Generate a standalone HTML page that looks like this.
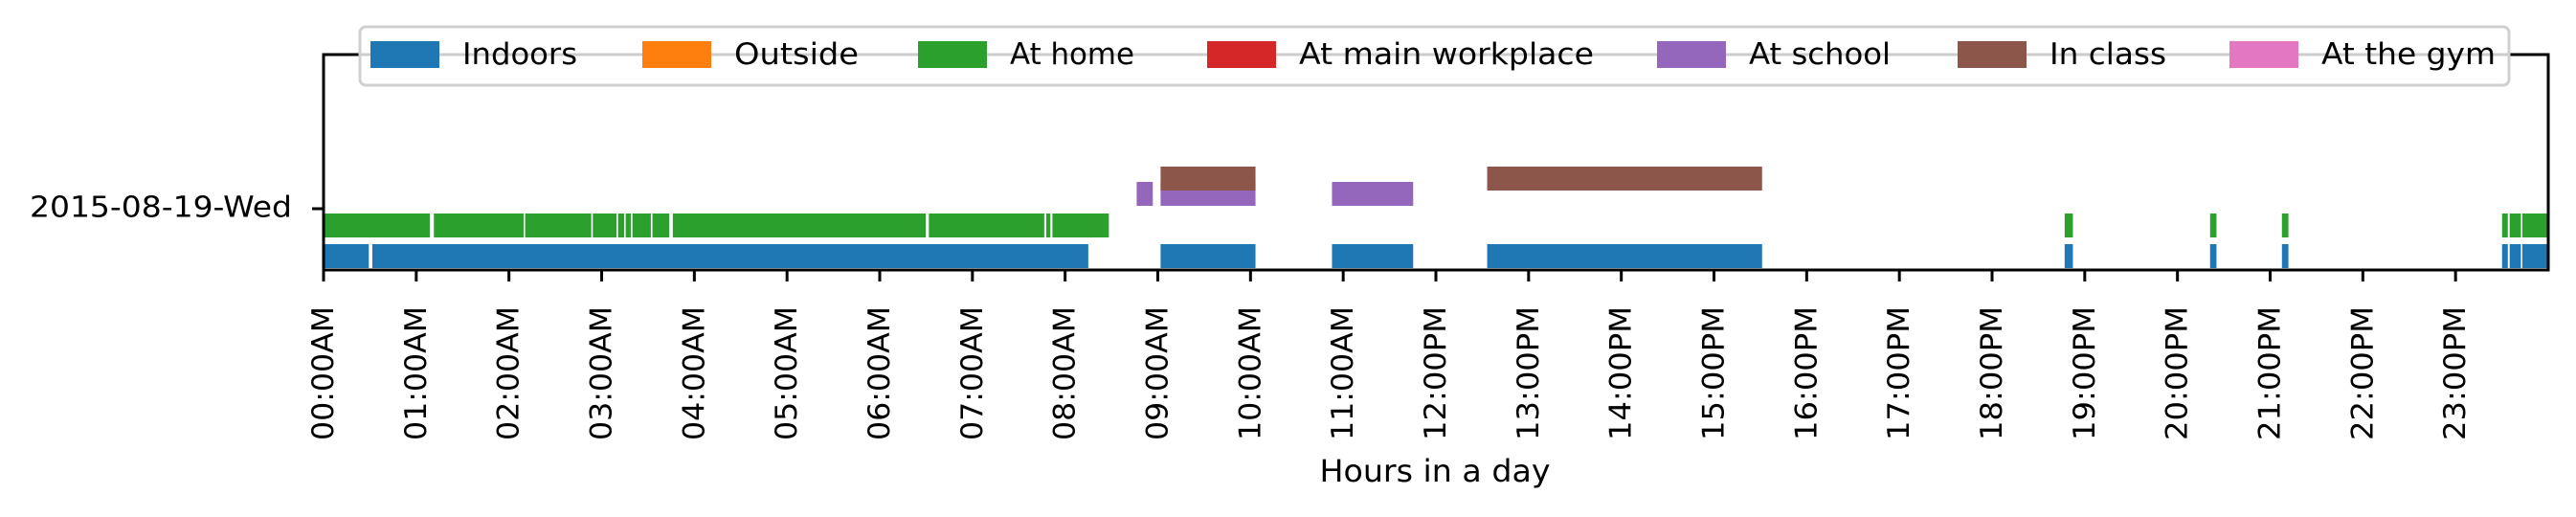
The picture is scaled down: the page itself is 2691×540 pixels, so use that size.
<!DOCTYPE html>
<html><head><meta charset="utf-8">
<style>
html,body{margin:0;padding:0;background:#fff;}
svg{display:block;font-family:"DejaVu Sans","Liberation Sans",sans-serif;}
</style></head>
<body>
<svg id="chart" width="2691" height="540" viewBox="0 0 2691 540" xmlns="http://www.w3.org/2000/svg">
  <rect x="0" y="0" width="2691" height="540" fill="#fff"/>
  <g id="bars"></g>
  <g id="axes"></g>
  <g id="legend"></g>
</svg>
<script>
// ---- data ----
const categories = ["Indoors","Outside","At home","At main workplace","At school","In class","At the gym"];
const colors = ["#1f77b4","#ff7f0e","#2ca02c","#d62728","#9467bd","#8c564b","#e377c2"];
const dayLabel = "2015-08-19-Wed";
const hourTicks = [0,1,2,3,4,5,6,7,8,9,10,11,12,13,14,15,16,17,18,19,20,21,22,23];
const hourTickLabels = ["00:00AM","01:00AM","02:00AM","03:00AM","04:00AM","05:00AM","06:00AM","07:00AM","08:00AM","09:00AM","10:00AM","11:00AM","12:00PM","13:00PM","14:00PM","15:00PM","16:00PM","17:00PM","18:00PM","19:00PM","20:00PM","21:00PM","22:00PM","23:00PM"];
// intervals in hours [start, end]
const indoorsSpans = [[0,0.488],[0.526,8.25],[9.03,10.054],[10.879,11.755],[12.553,15.519],[18.783,18.872],[20.352,20.421],[21.127,21.197],[23.502,23.564],[23.584,23.705],[23.72,24]];
const outsideSpans = [];
const homeSpans = [[0,1.146],[1.19,2.158],[2.175,2.888],[2.905,3.16],[3.177,3.243],[3.259,3.315],[3.332,3.531],[3.548,3.729],[3.768,6.496],[6.53,7.775],[7.797,7.841],[7.863,8.472],[18.783,18.872],[20.352,20.421],[21.127,21.197],[23.502,23.564],[23.584,23.705],[23.72,24]];
const workplaceSpans = [];
const schoolSpans = [[8.772,8.946],[9.03,10.054],[10.879,11.755]];
const classSpans = [[9.03,10.054],[12.553,15.519]];
const gymSpans = [];

// ---- layout ----
const NS = "http://www.w3.org/2000/svg";
const X0 = 338, X1 = 2662, Y0 = 57, Y1 = 282;
const xMin = 0, xMax = 24;
function xScale(h){ return X0 + (h - xMin) / (xMax - xMin) * (X1 - X0); }
// vertical band (top, height) per category row
const rowTop = {"Indoors":255,"Outside":239,"At home":223,"At main workplace":206,"At school":190,"In class":174,"At the gym":158};
const barH = 25;
function mk(tag, attrs, parent){
  const el = document.createElementNS(NS, tag);
  for (const k in attrs) el.setAttribute(k, attrs[k]);
  parent.appendChild(el);
  return el;
}
const barsG = document.getElementById('bars');
const spanSets = [indoorsSpans, outsideSpans, homeSpans, workplaceSpans, schoolSpans, classSpans, gymSpans];
spanSets.forEach((spans, ci) => {
  const cat = categories[ci];
  spans.forEach((s, i) => {
    const r = mk('rect', {x: xScale(s[0]), y: rowTop[cat], width: Math.max(0, xScale(s[1]) - xScale(s[0])), height: barH, fill: colors[ci]}, barsG);
    
    
  });
});

// ---- axes ----
const ax = document.getElementById('axes');
const spine = mk('rect', {x: X0, y: Y0, width: X1 - X0, height: Y1 - Y0, fill: 'none', stroke: '#000', 'stroke-width': 3}, ax);


const yt = mk('line', {x1: X0 - 12, x2: X0, y1: 218, y2: 218, stroke: '#000', 'stroke-width': 3}, ax);


const yl = mk('text', {x: 305, y: 218, 'text-anchor': 'end', 'dominant-baseline': 'middle', 'font-size': 30, textLength: 274, lengthAdjust: 'spacingAndGlyphs', fill: '#000'}, ax);
yl.textContent = dayLabel;


hourTicks.forEach((h, i) => {
  const x = xScale(h);
  const t = mk('line', {x1: x, x2: x, y1: Y1, y2: Y1 + 12, stroke: '#000', 'stroke-width': 3}, ax);
  
  
  const lb = mk('text', {x: x, y: 320, 'text-anchor': 'end', 'dominant-baseline': 'central', 'font-size': 31, textLength: 140, lengthAdjust: 'spacingAndGlyphs', transform: 'rotate(-90 ' + x + ' 320)', fill: '#000'}, ax);
  lb.textContent = hourTickLabels[i];
  
  
});
const xt = mk('text', {x: 1499, y: 503, 'text-anchor': 'middle', 'font-size': 32, textLength: 241, lengthAdjust: 'spacingAndGlyphs', fill: '#000'}, ax);
xt.textContent = "Hours in a day";



// ---- legend ----
const lg = document.getElementById('legend');
const box = mk('rect', {x: 376, y: 28, width: 2245, height: 61, rx: 6, fill: '#fff', 'fill-opacity': 0.8, stroke: '#d0d0d0', 'stroke-width': 3}, lg);


const patchX = [387, 671, 959, 1261, 1731, 2045, 2329];
const textW = [120, 130, 130, 308, 148, 122, 182];
categories.forEach((c, i) => {
  const p = mk('rect', {x: patchX[i], y: 43, width: 72, height: 28, fill: colors[i]}, lg);
  
  
  const t = mk('text', {x: patchX[i] + 96, y: 57, 'dominant-baseline': 'central', 'font-size': 31, textLength: textW[i], lengthAdjust: 'spacingAndGlyphs', fill: '#000'}, lg);
  t.textContent = c;
  
  
});
</script>
</body></html>
